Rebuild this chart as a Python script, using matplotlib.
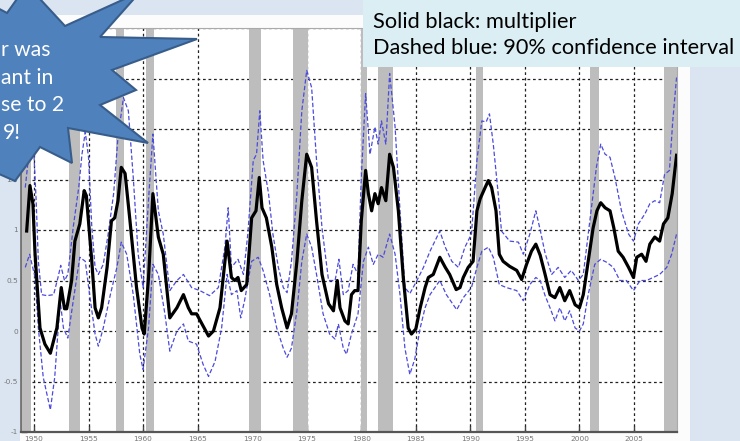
import matplotlib
matplotlib.use('Agg')
import matplotlib.pyplot as plt
from matplotlib.patches import Rectangle, Polygon

# ---------------- data ----------------
mult_years = [1949.33, 1949.63, 1949.9, 1950.1, 1950.55, 1951.0, 1951.5, 1952.1, 1952.5, 1952.8,
              1953.0, 1953.45, 1953.75, 1954.2, 1954.6, 1954.8, 1955.3, 1955.6, 1955.9, 1956.2,
              1956.7, 1957.1, 1957.4, 1957.7, 1958.0, 1958.35, 1958.8, 1959.4, 1959.9, 1960.1,
              1960.5, 1960.9, 1961.4, 1961.85, 1962.45, 1963.1, 1963.7, 1964.15, 1964.45, 1964.9,
              1965.4, 1966.0, 1966.45, 1967.05, 1967.5, 1967.7, 1968.1, 1968.4, 1968.7, 1969.0,
              1969.5, 1969.95, 1970.35, 1970.65, 1970.9, 1971.3, 1971.8, 1972.25, 1972.7, 1973.2,
              1973.6, 1974.1, 1974.55, 1975.0, 1975.45, 1975.9, 1976.4, 1977.0, 1977.45, 1977.8,
              1978.05, 1978.5, 1978.8, 1979.1, 1979.4, 1979.7, 1980.0, 1980.4, 1980.65, 1980.95,
              1981.25, 1981.55, 1981.85, 1982.25, 1982.6, 1982.95, 1983.4, 1983.85, 1984.3, 1984.6,
              1985.0, 1985.4, 1985.85, 1986.15, 1986.6, 1987.2, 1987.7, 1988.1, 1988.7, 1989.05,
              1989.35, 1989.8, 1990.25, 1990.6, 1990.9, 1991.35, 1991.65, 1991.95, 1992.35, 1992.65,
              1993.0, 1993.6, 1994.25, 1994.7, 1995.15, 1995.6, 1996.0, 1996.4, 1996.85, 1997.3,
              1997.75, 1998.2, 1998.65, 1999.1, 1999.6, 2000.0, 2000.35, 2000.8, 2001.25, 2001.6,
              2001.95, 2002.35, 2002.8, 2003.15, 2003.55, 2004.0, 2004.5, 2004.95, 2005.25, 2005.7,
              2006.1, 2006.45, 2006.9, 2007.35, 2007.7, 2008.1, 2008.5, 2008.9]
multiplier = [0.99, 1.44, 1.26, 0.76, 0.03, -0.13, -0.22, 0.03, 0.43, 0.22,
              0.22, 0.5, 0.89, 1.06, 1.39, 1.34, 0.69, 0.23, 0.13, 0.23,
              0.63, 1.09, 1.12, 1.29, 1.62, 1.56, 1.09, 0.43, 0.03, -0.03,
              0.53, 1.36, 0.93, 0.76, 0.13, 0.23, 0.36, 0.23, 0.17, 0.17,
              0.07, -0.05, 0.0, 0.23, 0.69, 0.89, 0.53, 0.5, 0.53, 0.4,
              0.46, 1.12, 1.19, 1.52, 1.22, 1.12, 0.83, 0.46, 0.23, 0.03,
              0.17, 0.69, 1.29, 1.75, 1.62, 1.09, 0.56, 0.27, 0.2, 0.5,
              0.23, 0.1, 0.07, 0.36, 0.4, 0.4, 1.09, 1.59, 1.36, 1.19,
              1.36, 1.26, 1.42, 1.29, 1.75, 1.62, 1.19, 0.53, 0.03, -0.03,
              0.02, 0.23, 0.43, 0.53, 0.56, 0.73, 0.63, 0.56, 0.41, 0.43,
              0.53, 0.63, 0.69, 1.19, 1.31, 1.42, 1.49, 1.42, 1.19, 0.76,
              0.69, 0.64, 0.6, 0.51, 0.66, 0.79, 0.86, 0.75, 0.56, 0.36,
              0.33, 0.43, 0.3, 0.4, 0.26, 0.23, 0.36, 0.69, 1.02, 1.19,
              1.27, 1.22, 1.19, 1.02, 0.79, 0.73, 0.63, 0.53, 0.73, 0.76,
              0.69, 0.86, 0.93, 0.89, 1.06, 1.12, 1.36, 1.74]

upper_years = [1949.2, 1949.5, 1949.75, 1949.95, 1950.2, 1950.4, 1950.7, 1951.2, 1951.8, 1952.2,
               1952.45, 1952.8, 1953.1, 1953.6, 1954.1, 1954.4, 1954.7, 1955.0, 1955.3, 1955.6,
               1955.9, 1956.35, 1956.8, 1957.3, 1957.7, 1958.2, 1958.65, 1959.1, 1959.55, 1960.0,
               1960.5, 1960.9, 1961.4, 1961.85, 1962.45, 1963.1, 1963.7, 1964.45, 1965.2, 1966.1,
               1966.9, 1967.5, 1967.8, 1968.1, 1968.7, 1969.2, 1969.6, 1970.1, 1970.4, 1970.7,
               1971.0, 1971.5, 1971.9, 1972.4, 1972.85, 1973.2, 1973.6, 1974.1, 1974.55, 1975.0,
               1975.45, 1975.9, 1976.4, 1977.0, 1977.6, 1977.95, 1978.35, 1978.8, 1979.25, 1979.7,
               1980.0, 1980.4, 1980.8, 1981.25, 1981.55, 1981.85, 1982.25, 1982.6, 1983.1, 1983.55,
               1984.0, 1984.45, 1985.1, 1985.7, 1986.3, 1987.2, 1987.7, 1988.3, 1988.9, 1989.5,
               1990.1, 1990.6, 1991.05, 1991.45, 1991.75, 1992.1, 1992.55, 1992.85, 1993.6, 1994.4,
               1994.85, 1995.45, 1996.0, 1996.4, 1996.85, 1997.45, 1998.05, 1998.65, 1999.25, 1999.9,
               2000.35, 2000.95, 2001.55, 2001.95, 2002.35, 2002.8, 2003.25, 2003.85, 2004.5, 2004.95,
               2005.4, 2006.0, 2006.45, 2006.9, 2007.35, 2007.8, 2008.25, 2008.55, 2008.9]
upper = [1.42, 1.72, 2.0, 1.85, 1.29, 0.69, 0.36, 0.35, 0.36, 0.53,
         0.65, 0.5, 0.56, 1.03, 1.42, 1.75, 1.97, 1.72, 1.03, 0.63,
         0.56, 0.66, 0.96, 1.36, 1.92, 2.31, 2.18, 1.52, 0.76, 0.43,
         1.3, 1.95, 1.19, 0.96, 0.4, 0.5, 0.56, 0.43, 0.4, 0.35,
         0.43, 0.83, 1.22, 0.63, 0.71, 0.56, 0.96, 1.69, 1.75, 2.18,
         1.69, 1.36, 0.96, 0.63, 0.43, 0.38, 0.69, 1.36, 2.18, 2.58,
         2.41, 1.69, 1.02, 0.5, 0.5, 0.71, 0.36, 0.4, 0.66, 0.56,
         1.52, 2.35, 1.75, 2.02, 1.85, 2.08, 1.85, 2.55, 2.02, 1.19,
         0.43, 0.37, 0.5, 0.63, 0.79, 0.99, 0.83, 0.69, 0.63, 0.83,
         0.96, 1.69, 2.08, 2.07, 2.15, 1.85, 1.36, 0.99, 0.89, 0.88,
         0.76, 0.96, 1.19, 1.0, 0.77, 0.56, 0.63, 0.53, 0.6, 0.5,
         0.56, 1.09, 1.62, 1.85, 1.75, 1.72, 1.52, 1.19, 0.96, 0.89,
         1.06, 1.16, 1.26, 1.29, 1.27, 1.55, 1.59, 2.08, 2.51]

lower_years = [1949.2, 1949.6, 1950.1, 1950.4, 1950.85, 1951.5, 1951.9, 1952.4, 1952.7, 1953.1,
               1953.6, 1954.2, 1954.7, 1955.1, 1955.6, 1955.9, 1956.35, 1957.0, 1957.6, 1958.0,
               1958.5, 1959.1, 1959.7, 1960.0, 1960.5, 1960.9, 1961.4, 1962.0, 1962.45, 1963.1,
               1963.7, 1964.15, 1964.9, 1965.5, 1966.0, 1966.6, 1967.2, 1967.7, 1968.1, 1968.6,
               1968.95, 1969.3, 1969.95, 1970.55, 1971.0, 1971.6, 1972.25, 1972.85, 1973.2, 1973.6,
               1974.1, 1974.55, 1975.0, 1975.45, 1975.9, 1976.5, 1977.1, 1977.6, 1977.9, 1978.35,
               1978.65, 1979.1, 1979.7, 1980.2, 1980.65, 1981.1, 1981.55, 1982.0, 1982.6, 1983.1,
               1983.55, 1984.0, 1984.45, 1984.9, 1985.4, 1985.85, 1986.3, 1987.2, 1987.8, 1988.75,
               1989.35, 1990.1, 1990.6, 1991.05, 1991.65, 1992.1, 1992.65, 1993.3, 1994.25, 1994.85,
               1995.45, 1996.0, 1996.4, 1996.85, 1997.3, 1997.75, 1998.2, 1998.65, 1999.1, 1999.6,
               2000.0, 2000.35, 2000.8, 2001.4, 2001.95, 2002.5, 2003.1, 2003.7, 2004.3, 2004.95,
               2005.55, 2006.15, 2006.75, 2007.35, 2008.0, 2008.45, 2008.9]
lower = [0.63, 0.76, 0.53, 0.03, -0.46, -0.78, -0.46, 0.3, 0.03, -0.07,
         0.3, 0.73, 0.69, 0.36, -0.03, -0.15, 0.03, 0.36, 0.63, 0.88,
         0.76, 0.36, -0.23, -0.38, 0.03, 0.66, 0.56, 0.17, -0.2, 0.0,
         0.07, -0.1, -0.13, -0.33, -0.45, -0.3, 0.03, 0.56, 0.36, 0.4,
         0.13, 0.3, 0.69, 0.73, 0.6, 0.36, 0.03, -0.17, -0.26, -0.17,
         0.2, 0.69, 0.96, 0.83, 0.56, 0.17, -0.03, -0.08, 0.07, -0.17,
         -0.23, -0.03, 0.17, 0.69, 0.83, 0.66, 0.76, 0.73, 0.96, 0.76,
         0.36, -0.17, -0.43, -0.28, 0.03, 0.23, 0.36, 0.5, 0.36, 0.21,
         0.33, 0.43, 0.63, 0.79, 0.83, 0.73, 0.46, 0.43, 0.4, 0.3,
         0.46, 0.53, 0.5, 0.35, 0.23, 0.1, 0.23, 0.1, 0.2, 0.03,
         0.0, 0.07, 0.36, 0.66, 0.71, 0.68, 0.63, 0.5, 0.5, 0.4,
         0.5, 0.5, 0.53, 0.56, 0.63, 0.76, 0.96]

recession_start = [1948.75, 1953.25, 1957.5, 1960.25, 1969.75, 1973.75, 1980.0, 1981.5, 1990.5, 2001.0, 2007.75]
recession_end = [1949.75, 1954.25, 1958.25, 1961.0, 1970.85, 1975.1, 1980.5, 1982.9, 1991.2, 2001.8, 2009.5]

x_ticks = [1950, 1955, 1960, 1965, 1970, 1975, 1980, 1985, 1990, 1995, 2000, 2005]
y_ticks = [-1, -0.5, 0, 0.5, 1, 1.5, 2, 2.5, 3]
# labels for 2, 2.5 and 3 lie under the callout star in the reference and are not visible
y_labels = ['-1', '-0.5', '0', '0.5', '1', '1.5', '', '', '']

legend_lines = ['Solid black: multiplier', 'Dashed blue: 90% confidence interval']
star_lines = ['r was', 'ant in', 'se to 2', '9!']

# ---------------- layout ----------------
W, H = 740, 441
fig = plt.figure(figsize=(W / 100, H / 100), dpi=100, facecolor='#dbe5f1')


def fx(x):
    return x / W


def fy(y):
    return 1 - y / H


# white chart-image background
fig.add_artist(Rectangle((fx(20), 0), fx(690) - fx(20), fy(15), transform=fig.transFigure,
                         facecolor='#fcfcfc', edgecolor='none', zorder=-5))

ax = fig.add_axes([fx(21), fy(432), fx(677) - fx(21), fy(28) - fy(432)])
ax.set_facecolor('white')
ax.set_xlim(1948.81, 2008.94)
ax.set_ylim(-1, 3)

for s, e in zip(recession_start, recession_end):
    ax.axvspan(s, e, color='#bdbdbd', lw=0, zorder=1)

ax.set_axisbelow(True)
ax.grid(True, color='#222222', linestyle=(0, (2.2, 2.2)), linewidth=0.9)

ax.plot(upper_years, upper, color='#4b4bdc', lw=0.9, ls=(0, (3.5, 1.8)), zorder=2)
ax.plot(lower_years, lower, color='#4b4bdc', lw=0.9, ls=(0, (3.5, 1.8)), zorder=2)
ax.plot(mult_years, multiplier, color='black', lw=2.3, zorder=3, solid_joinstyle='round')

ax.set_xticks(x_ticks)
ax.set_xticklabels([str(t) for t in x_ticks])
ax.set_yticks(y_ticks)
ax.set_yticklabels(y_labels)
ax.tick_params(direction='in', length=4, width=1, color='#444444', labelsize=5.3,
               labelcolor='#777777', pad=2)
ax.tick_params(axis='x', pad=3.2)
for side, col, lw in [('bottom', '#555555', 1.6), ('left', '#666666', 1.2),
                      ('top', '#aaaaaa', 0.8), ('right', '#aaaaaa', 0.8)]:
    ax.spines[side].set_color(col)
    ax.spines[side].set_linewidth(lw)

# legend text box (slide annotation)
fig.add_artist(Rectangle((fx(363), fy(67)), 1 - fx(363), 1 - fy(67), transform=fig.transFigure,
                         facecolor='#daeef3', edgecolor='none', zorder=10))
fs = 15
t1 = fig.text(fx(373), fy(22), legend_lines[0], ha='left', va='center', fontsize=fs,
              family='Lato', color='black', zorder=11)
t2 = fig.text(fx(373), fy(48), legend_lines[1], ha='left', va='center', fontsize=fs,
              family='Lato', color='black', zorder=11)
fig.canvas.draw()
w = t2.get_window_extent().width
fs = fs * 362 / w
t1.set_fontsize(fs)
t2.set_fontsize(fs)

# star callout
star_pts = [(-10, 4), (7, 13), (27, -15), (65, 26), (140, -8), (100, 37), (197, 39), (112, 70),
            (136, 90), (100, 105), (148, 143), (68, 128), (72, 163), (40, 147), (15, 181),
            (-10, 170)]
fig.add_artist(Polygon([(fx(x), fy(y)) for x, y in star_pts], closed=True,
                       transform=fig.transFigure, facecolor='#4f81bd', edgecolor='#385d8a',
                       lw=1.5, zorder=12))
star_pos = [(1, 50), (1, 78), (1, 105), (3, 133)]
star_fs = fs * 0.97
for (x, y), s in zip(star_pos, star_lines):
    fig.text(fx(x), fy(y), s, ha='left', va='center', fontsize=star_fs, family='Lato',
             color='white', zorder=13)

fig.savefig('out.png', dpi=100, facecolor=fig.get_facecolor())
